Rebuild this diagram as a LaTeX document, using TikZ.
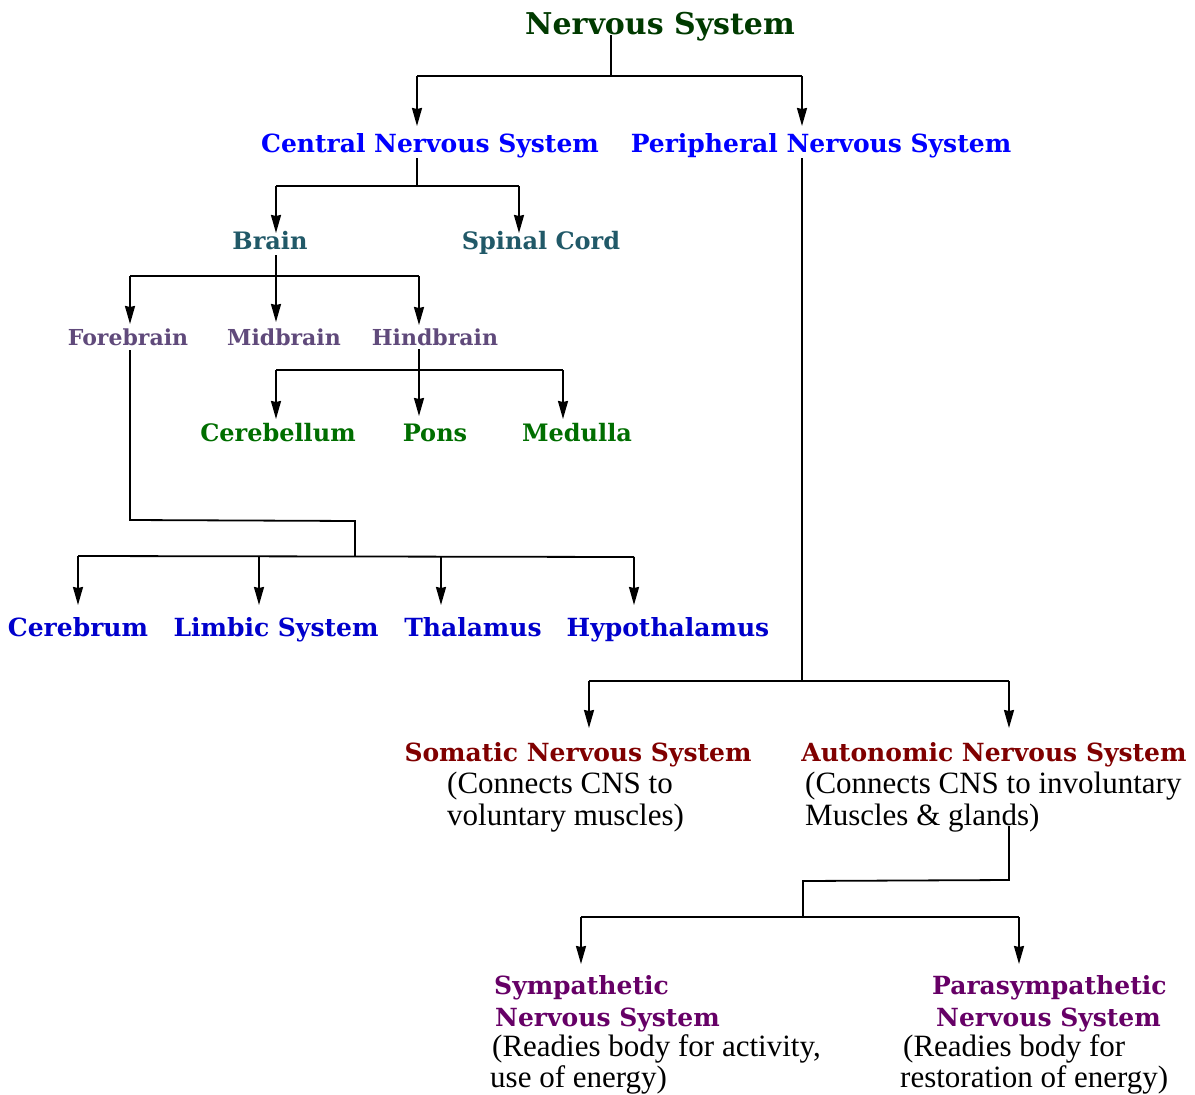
\documentclass[tikz,border=0pt]{standalone}
\usepackage{fontspec}
\setmainfont{DejaVu Serif}
\newfontfamily\bodyfont{Liberation Serif}
\usetikzlibrary{arrows.meta}
\definecolor{nsgreen}{RGB}{0,58,0}
\definecolor{cnsblue}{RGB}{0,0,255}
\definecolor{teal2}{RGB}{33,89,104}
\definecolor{purp}{RGB}{96,74,123}
\definecolor{grn}{RGB}{0,110,0}
\definecolor{blue2}{RGB}{0,0,204}
\definecolor{dred}{RGB}{128,0,0}
\definecolor{vio}{RGB}{102,0,102}
\tikzset{
  lbl/.style={inner sep=0pt, anchor=base},
  ttl/.style={lbl, font=\bfseries\fontsize{30}{34}\selectfont, text=nsgreen},
  lone/.style={lbl, font=\bfseries\fontsize{25}{30}\selectfont, text=cnsblue},
  ltwo/.style={lbl, font=\bfseries\fontsize{24}{28}\selectfont, text=teal2},
  lthree/.style={lbl, font=\bfseries\fontsize{22}{26}\selectfont, text=purp},
  lfour/.style={lbl, font=\bfseries\fontsize{24}{28}\selectfont, text=grn},
  lfive/.style={lbl, font=\bfseries\fontsize{25}{30}\selectfont, text=blue2},
  lsix/.style={lbl, font=\bfseries\fontsize{25}{30}\selectfont, text=dred},
  lseven/.style={lbl, font=\bfseries\fontsize{25}{30}\selectfont, text=vio},
  body/.style={lbl, font=\bodyfont\fontsize{31}{34}\selectfont, text=black},
  conn/.style={draw=black, line width=1.8pt},
  arr/.style={conn, -{Stealth[length=18pt,width=10pt,inset=1pt]}},
}
\begin{document}
\begin{tikzpicture}[x=1pt,y=-1pt]
\useasboundingbox (0,0) rectangle (1195,1095);
% ---- labels (base line positions) ----
\node[ttl]  (ns)   at (660,34)  {Nervous System};
\node[lone] (cns)  at (430,152) {Central Nervous System};
\node[lone] (pns)  at (821,152) {Peripheral Nervous System};
\node[ltwo] (brain) at (270,249) {Brain};
\node[ltwo] (spinal) at (541,249) {Spinal Cord};
\node[lthree] (fore) at (128,345) {Forebrain};
\node[lthree] (mid)  at (284,345) {Midbrain};
\node[lthree] (hind) at (435,345) {Hindbrain};
\node[lfour] (cereb) at (278,441) {Cerebellum};
\node[lfour] (pons)  at (435,441) {Pons};
\node[lfour] (med)   at (577,441) {Medulla};
\node[lfive] (cerebrum) at (78,636) {Cerebrum};
\node[lfive] (limbic)   at (276,636) {Limbic System};
\node[lfive] (thal)     at (473,636) {Thalamus};
\node[lfive] (hypo)     at (668,636) {Hypothalamus};
\node[lsix] (som)  at (578,761) {Somatic Nervous System};
\node[lsix] (aut)  at (994,761) {Autonomic Nervous System};
\node[body,anchor=base west] (somd1) at (447,793) {(Connects CNS to};
\node[body,anchor=base west] (somd2) at (447,825) {voluntary muscles)};
\node[body,anchor=base west] (autd1) at (805,793) {(Connects CNS to involuntary};
\node[body,anchor=base west] (autd2) at (805,825) {Muscles \& glands)};
\node[lseven,anchor=base west] (sym1) at (494,994) {Sympathetic};
\node[lseven,anchor=base west] (sym2) at (495,1026) {Nervous System};
\node[body,anchor=base west] (symd1) at (492,1056) {(Readies body for activity,};
\node[body,anchor=base west] (symd2) at (490,1087) {use of energy)};
\node[lseven,anchor=base west] (par1) at (932,994) {Parasympathetic};
\node[lseven,anchor=base west] (par2) at (936,1026) {Nervous System};
\node[body,anchor=base west] (pard1) at (903,1056) {(Readies body for};
\node[body,anchor=base west] (pard2) at (900,1087) {restoration of energy)};
% ---- junction coordinates ----
\coordinate (nsA) at (611,35);   \coordinate (nsB) at (611,76);
\coordinate (nsL) at (417,76);   \coordinate (nsR) at (802,76);
\coordinate (cnsA) at (417,158); \coordinate (cnsB) at (417,186);
\coordinate (cnsL) at (276,186); \coordinate (cnsR) at (519,186);
\coordinate (brA) at (276,255);  \coordinate (brB) at (276,276);
\coordinate (brL) at (130,276);  \coordinate (brR) at (419,276);
\coordinate (hiA) at (419,349);  \coordinate (hiB) at (419,370);
\coordinate (hiL) at (276,370);  \coordinate (hiR) at (563,370);
\coordinate (foA) at (130,350);  \coordinate (foB) at (130,520);
\coordinate (foC) at (355,521);  \coordinate (foD) at (355,556);
\coordinate (foL) at (78,556);   \coordinate (foR) at (634,557);
\coordinate (fo2) at (259,556);  \coordinate (fo3) at (441,556);
\coordinate (pnA) at (802,158);  \coordinate (pnB) at (802,681);
\coordinate (pnL) at (589,681);  \coordinate (pnR) at (1009,681);
\coordinate (auA) at (1009,826); \coordinate (auB) at (1009,880);
\coordinate (auC) at (803,881);  \coordinate (auD) at (803,917);
\coordinate (auL) at (581,917);  \coordinate (auR) at (1019,917);
% ---- connectors ----
\draw[conn] (nsA) -- (nsB);
\draw[conn] (nsL) -- (nsR);
\draw[arr] (nsL) -- (nsL |- 0,126);
\draw[arr] (nsR) -- (nsR |- 0,126);
\draw[conn] (cnsA) -- (cnsB);
\draw[conn] (cnsL) -- (cnsR);
\draw[arr] (cnsL) -- (cnsL |- 0,233);
\draw[arr] (cnsR) -- (cnsR |- 0,233);
\draw[conn] (brA) -- (brB);
\draw[conn] (brL) -- (brR);
\draw[arr] (brL) -- (brL |- 0,324);
\draw[arr] (brB) -- (brB |- 0,322);
\draw[arr] (brR) -- (brR |- 0,325);
\draw[conn] (hiL) -- (hiR);
\draw[arr] (hiA) -- (hiA |- 0,416);
\draw[arr] (hiL) -- (hiL |- 0,419);
\draw[arr] (hiR) -- (hiR |- 0,419);
\draw[conn] (foA) -- (foB) -- (foC) -- (foD);
\draw[conn] (foL) -- (foR);
\draw[arr] (foL) -- (foL |- 0,605);
\draw[arr] (fo2) -- (fo2 |- 0,605);
\draw[arr] (fo3) -- (fo3 |- 0,605);
\draw[arr] (foR) -- (foR |- 0,605);
\draw[conn] (pnA) -- (pnB);
\draw[conn] (pnL) -- (pnR);
\draw[arr] (pnL) -- (pnL |- 0,728);
\draw[arr] (pnR) -- (pnR |- 0,728);
\draw[conn] (auA) -- (auB) -- (auC) -- (auD);
\draw[conn] (auL) -- (auR);
\draw[arr] (auL) -- (auL |- 0,964);
\draw[arr] (auR) -- (auR |- 0,964);
\end{tikzpicture}
\end{document}
